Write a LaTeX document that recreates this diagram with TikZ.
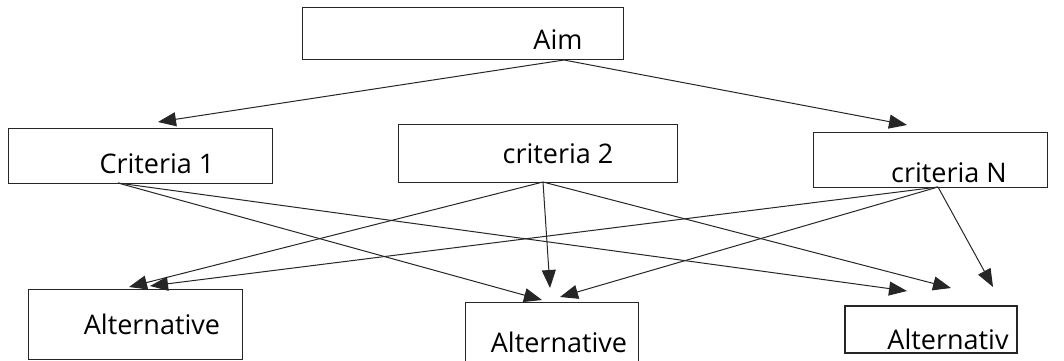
\documentclass[tikz,border=0pt]{standalone}
\usepackage{fontspec}
\setmainfont{Open Sans}
\usetikzlibrary{arrows.meta}
\begin{document}
\begin{tikzpicture}[x=1pt,y=-1pt,
  boxline/.style={draw=black!85,line width=1pt},
  lbl/.style={anchor=base,inner sep=0pt,font=\fontsize{27}{30}\selectfont},
  conn/.style={draw=black!85,line width=1pt,-{Triangle[length=18pt,width=14pt]}}]
\useasboundingbox (0,0) rectangle (1064,360);
% boxes
\draw[boxline] (302,7) rectangle (623,59);
\draw[boxline] (8,128) rectangle (272,183);
\draw[boxline] (398,124) rectangle (677,182);
\draw[boxline] (813,132) rectangle (1047,187);
\draw[boxline] (28,289) rectangle (242,359);
\draw[boxline] (465,364) -- (465,302) -- (638,302) -- (638,364);
\draw[boxline,line width=1.8pt] (845,306) rectangle (1017,353);
% labels
\node[lbl] (aim) at (558,49) {Aim};
\node[lbl] (c1) at (157,173) {Criteria 1};
\node[lbl] (c2) at (558,163) {criteria 2};
\node[lbl] (cn) at (949,182) {criteria N};
\node[lbl] (a1) at (152,334) {Alternative};
\node[lbl] (a2) at (559,352) {Alternative};
\node[lbl] (a3) at (948,349) {Alternativ};
% connector ends
\coordinate (aimS) at (564,60);
\coordinate (c1T) at (158,122);
\coordinate (cnT) at (907,125);
\coordinate (c1S) at (118,183);
\coordinate (c2S) at (543,182);
\coordinate (cnS) at (938,187);
\coordinate (a1Ta) at (129,287);
\coordinate (a1Tb) at (150,286);
\coordinate (a2Ta) at (542,300);
\coordinate (a2Tb) at (550,288);
\coordinate (a2Tc) at (560,297);
\coordinate (a3Ta) at (907,291);
\coordinate (a3Tb) at (951,288);
\coordinate (a3Tc) at (993,287);
% connectors
\draw[conn] (aimS) -- (c1T);
\draw[conn] (aimS) -- (cnT);
\draw[conn] (c1S) -- (a2Ta);
\draw[conn] (c1S) -- (a3Ta);
\draw[conn] (c2S) -- (a1Ta);
\draw[conn] (c2S) -- (a2Tb);
\draw[conn] (c2S) -- (a3Tb);
\draw[conn] (cnS) -- (a1Tb);
\draw[conn] (cnS) -- (a2Tc);
\draw[conn] (cnS) -- (a3Tc);
\end{tikzpicture}
\end{document}
